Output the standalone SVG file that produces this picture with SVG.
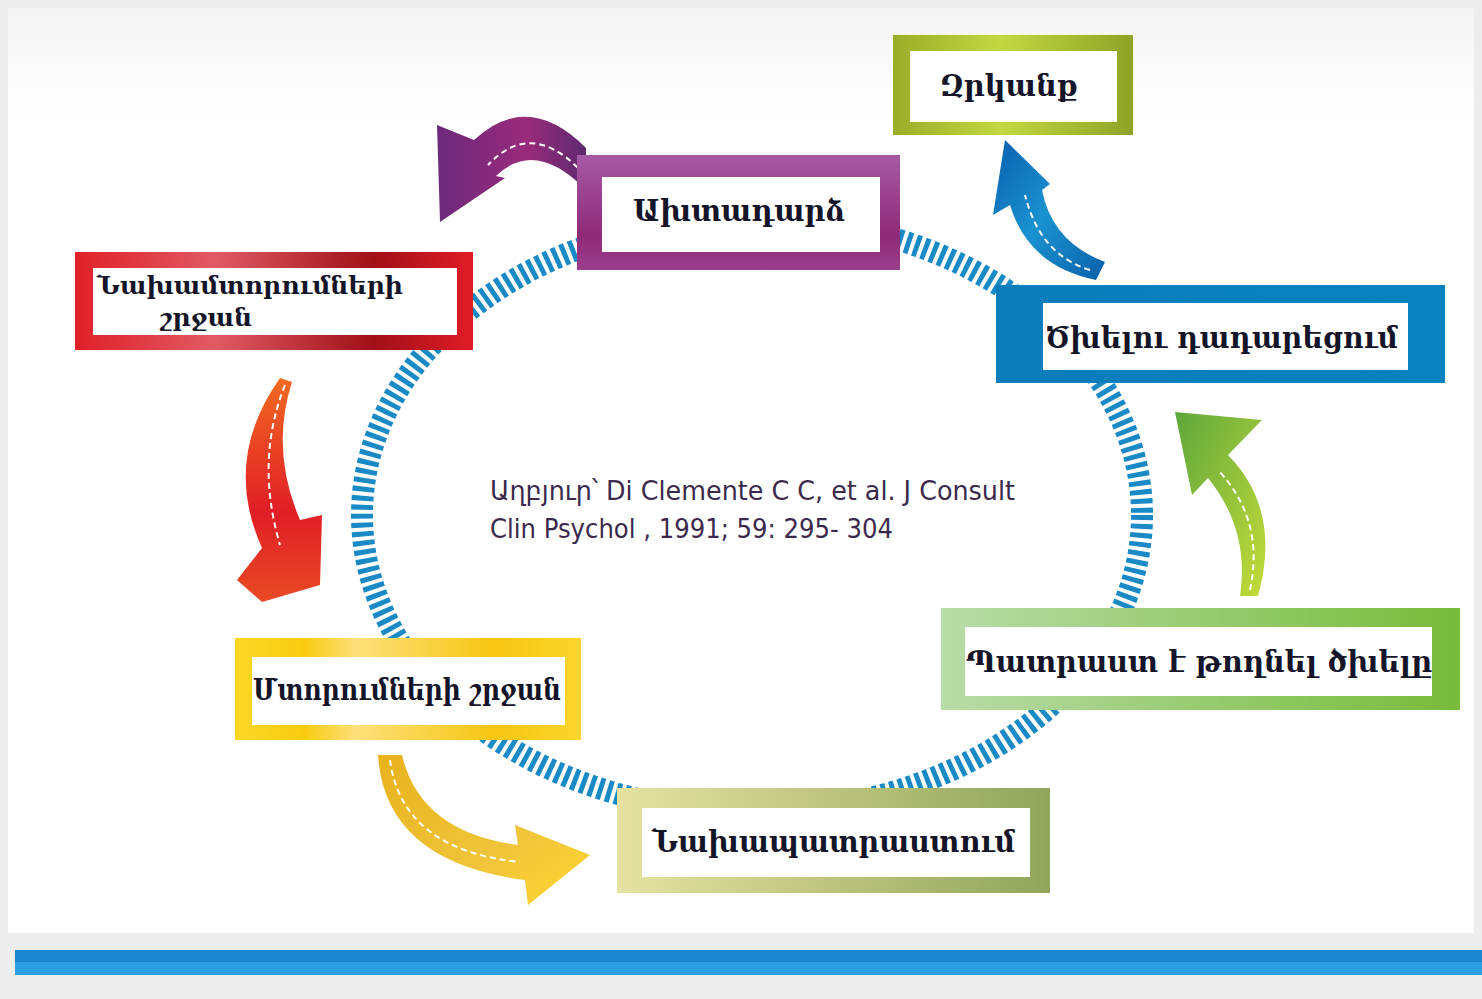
<svg xmlns="http://www.w3.org/2000/svg" width="1482" height="999" viewBox="0 0 1482 999">
<defs>
<linearGradient id="gOlive" x1="0" y1="0" x2="1" y2="0"><stop offset="0" stop-color="#9aad28"/><stop offset="0.45" stop-color="#c2d842"/><stop offset="1" stop-color="#8ea326"/></linearGradient>
<linearGradient id="gPurple" x1="0" y1="0" x2="0" y2="1"><stop offset="0" stop-color="#a75aa4"/><stop offset="0.7" stop-color="#8e2a78"/><stop offset="1" stop-color="#9a3f8c"/></linearGradient>
<linearGradient id="gRed" x1="0" y1="0" x2="1" y2="0"><stop offset="0" stop-color="#e02028"/><stop offset="0.35" stop-color="#e05a64"/><stop offset="0.75" stop-color="#a01018"/><stop offset="1" stop-color="#e01c26"/></linearGradient>
<linearGradient id="gBlue" x1="0" y1="0" x2="1" y2="0"><stop offset="0" stop-color="#0a7dba"/><stop offset="1" stop-color="#0a82c0"/></linearGradient>
<linearGradient id="gGreen" x1="0" y1="0" x2="1" y2="0"><stop offset="0" stop-color="#b8dca8"/><stop offset="1" stop-color="#78bb3a"/></linearGradient>
<linearGradient id="gYellow" x1="0" y1="0" x2="1" y2="0"><stop offset="0" stop-color="#fbd825"/><stop offset="0.2" stop-color="#f9cc10"/><stop offset="0.35" stop-color="#fde07a"/><stop offset="0.75" stop-color="#f6c612"/><stop offset="1" stop-color="#fbd52c"/></linearGradient>
<linearGradient id="gKhaki" x1="0" y1="0" x2="1" y2="0"><stop offset="0" stop-color="#e6e3a2"/><stop offset="1" stop-color="#91a55a"/></linearGradient>
<linearGradient id="aPurple" x1="0" y1="0" x2="1" y2="0"><stop offset="0" stop-color="#6c2a7c"/><stop offset="0.6" stop-color="#992a7a"/><stop offset="1" stop-color="#5e2a70"/></linearGradient>
<linearGradient id="aBlue" x1="0" y1="0" x2="1" y2="1"><stop offset="0" stop-color="#0a5fae"/><stop offset="0.5" stop-color="#1a92d0"/><stop offset="1" stop-color="#0a60aa"/></linearGradient>
<linearGradient id="aGreen" x1="0" y1="0" x2="1" y2="1"><stop offset="0" stop-color="#5fa63c"/><stop offset="1" stop-color="#c3dc3a"/></linearGradient>
<linearGradient id="aRed" x1="0" y1="0" x2="0" y2="1"><stop offset="0" stop-color="#f26a22"/><stop offset="0.6" stop-color="#e01e26"/><stop offset="1" stop-color="#e84a24"/></linearGradient>
<linearGradient id="aYellow" x1="0" y1="0" x2="1" y2="1"><stop offset="0" stop-color="#e8b21c"/><stop offset="0.6" stop-color="#f0c43a"/><stop offset="1" stop-color="#ffd630"/></linearGradient>
<linearGradient id="bg" x1="0" y1="0" x2="0" y2="1"><stop offset="0" stop-color="#f4f4f4"/><stop offset="0.12" stop-color="#ffffff"/><stop offset="1" stop-color="#ffffff"/></linearGradient>
</defs>
<style>
.in{fill:#ffffff}
.lbl{font-family:"DejaVu Serif","Noto Serif","DejaVu Sans",serif;font-weight:bold;font-size:30px;fill:#15152a;text-anchor:start}
.cite{font-family:"DejaVu Sans","Noto Sans",sans-serif;font-stretch:condensed;font-size:26px;fill:#3b2a4c}
.arrowEdge{fill:none;stroke:#ffffff;stroke-width:2;stroke-dasharray:6 4}
</style>
<rect x="0" y="0" width="1482" height="999" fill="#ededed"/>
<rect x="8" y="8" width="1466" height="925" fill="url(#bg)"/>
<rect x="15" y="950" width="1467" height="12" fill="#1a86cf"/>
<rect x="15" y="962" width="1467" height="13" fill="#2a9ee0"/>

<g id="connectors">
<ellipse cx="752" cy="515" rx="390" ry="297" fill="none" stroke="#1a8ac6" stroke-width="22" stroke-dasharray="5 4"/>
<g id="arrow-purple">
<path d="M586 148 Q528 90 474 140 L437 125 L440 222 L505 178 L496 176 Q535 138 586 190 Z" fill="url(#aPurple)"/>
<path class="arrowEdge" d="M578 168 Q530 120 488 165"/>
</g>
<g id="arrow-blue">
<path d="M1105 262 Q1052 242 1042 190 L1050 184 L1005 140 L993 215 L1010 205 Q1028 266 1096 280 Z" fill="url(#aBlue)"/>
<path class="arrowEdge" d="M1090 270 Q1040 255 1025 195"/>
</g>
<g id="arrow-green">
<path d="M1258 596 Q1282 510 1228 455 L1262 420 L1175 412 L1192 495 L1208 478 Q1250 530 1240 596 Z" fill="url(#aGreen)"/>
<path class="arrowEdge" d="M1250 590 Q1265 520 1218 470"/>
</g>
<g id="arrow-red">
<path d="M280 378 L292 382 Q270 450 300 520 L322 515 L320 585 L262 602 L237 580 L262 548 Q222 460 280 378 Z" fill="url(#aRed)"/>
<path class="arrowEdge" d="M285 385 Q255 460 280 545"/>
</g>
<g id="arrow-yellow">
<path d="M378 755 Q385 862 525 880 L528 905 L590 855 L515 825 L518 845 Q420 832 402 755 Z" fill="url(#aYellow)"/>
<path class="arrowEdge" d="M390 760 Q402 850 520 862"/>
</g>
</g>

<g id="node-zrkanq">
<rect x="893" y="35" width="240" height="100" fill="url(#gOlive)"/>
<rect class="in" x="910" y="51" width="207" height="71"/>
<text class="lbl" x="940" y="96" textLength="138" lengthAdjust="spacingAndGlyphs">Զրկանք</text>
</g>
<g id="node-akhtadardz">
<rect x="577" y="155" width="323" height="115" fill="url(#gPurple)"/>
<rect class="in" x="602" y="177" width="278" height="75"/>
<text class="lbl" x="633" y="221" textLength="212" lengthAdjust="spacingAndGlyphs">Ախտադարձ</text>
</g>
<g id="node-nakhamtorum">
<rect x="75" y="252" width="398" height="98" fill="url(#gRed)"/>
<rect class="in" x="93" y="268" width="364" height="67"/>
<text class="lbl" x="97" y="294" style="font-size:25px" textLength="306" lengthAdjust="spacingAndGlyphs">Նախամտորումների</text>
<text class="lbl" x="160" y="326" style="font-size:25px" textLength="92" lengthAdjust="spacingAndGlyphs">շրջան</text>
</g>
<g id="node-dadarecum">
<rect x="996" y="285" width="449" height="98" fill="url(#gBlue)"/>
<rect class="in" x="1043" y="303" width="365" height="67"/>
<text class="lbl" x="1045" y="348" textLength="353" lengthAdjust="spacingAndGlyphs">Ծխելու դադարեցում</text>
</g>
<g id="node-patrast">
<rect x="941" y="608" width="519" height="102" fill="url(#gGreen)"/>
<rect class="in" x="965" y="627" width="467" height="69"/>
<text class="lbl" x="966" y="672" textLength="466" lengthAdjust="spacingAndGlyphs">Պատրաստ է թողնել ծխելը</text>
</g>
<g id="node-mtorum">
<rect x="235" y="638" width="346" height="102" fill="url(#gYellow)"/>
<rect class="in" x="252" y="657" width="313" height="68"/>
<text class="lbl" x="253" y="700" textLength="308" lengthAdjust="spacingAndGlyphs">Մտորումների շրջան</text>
</g>
<g id="node-nakhapatrastum">
<rect x="617" y="788" width="433" height="105" fill="url(#gKhaki)"/>
<rect class="in" x="642" y="808" width="388" height="69"/>
<text class="lbl" x="652" y="852" textLength="363" lengthAdjust="spacingAndGlyphs">Նախապատրաստում</text>
</g>
<g id="citation">
<text class="cite" x="490" y="500" textLength="525" lengthAdjust="spacingAndGlyphs">Աղբյուր՝ Di Clemente C C, et al. J Consult</text>
<text class="cite" x="490" y="538" textLength="403" lengthAdjust="spacingAndGlyphs">Clin Psychol , 1991; 59: 295- 304</text>
</g>
</svg>
